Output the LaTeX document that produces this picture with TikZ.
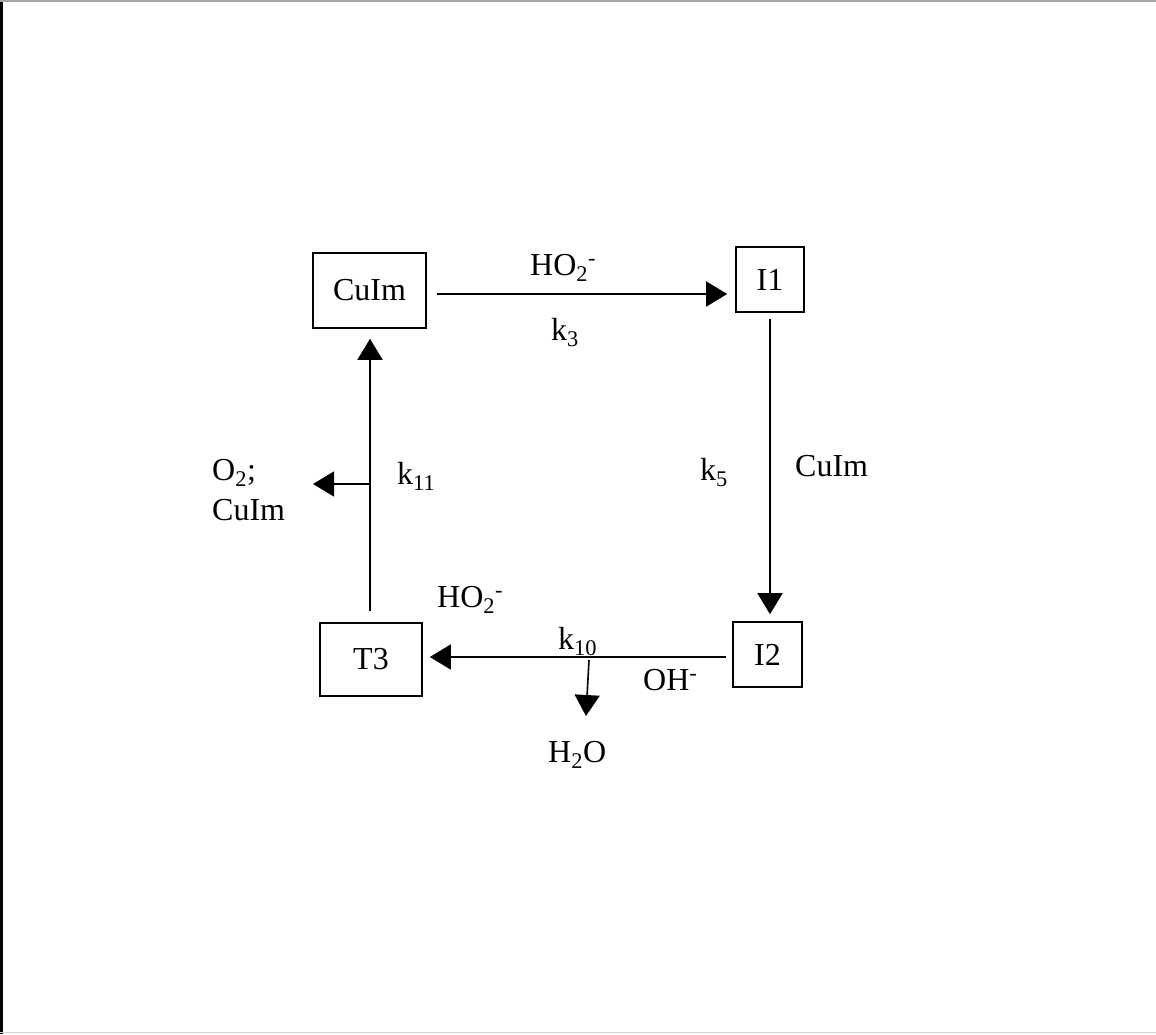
\documentclass[tikz,border=0pt]{standalone}
\usepackage{fontspec}
\setmainfont{Liberation Serif}
\usetikzlibrary{arrows.meta}
\begin{document}
\begin{tikzpicture}[x=1pt,y=-1pt,
  every node/.style={font=\fontsize{32}{40}\selectfont},
  species/.style={draw, line width=1.6pt, inner sep=0pt},
  lbl/.style={anchor=base west, inner sep=0pt},
  rxn/.style={line width=1.6pt, -{Triangle[length=21pt,width=25pt]}}]
\useasboundingbox (0,0) rectangle (1156,1034);
% page frame
\draw[line width=2.5pt] (1.5,0) -- (1.5,1034);
\draw[gray!70, line width=1.5pt] (0,0.8) -- (1156,0.8);
\draw[gray!35, line width=1.5pt] (0,1032.5) -- (1156,1032.5);
% species boxes
\node[species, minimum width=113pt, minimum height=75pt] (cuim) at (369.5,290.5) {CuIm};
\node[species, minimum width=68pt, minimum height=65pt] (i1) at (770,279.5) {I1};
\node[species, minimum width=102pt, minimum height=73pt] (t3) at (371,659.5) {T3};
\node[species, minimum width=69pt, minimum height=65pt] (i2) at (767.5,654.5) {I2};
% cycle connectors
\draw[rxn] ([shift={(10,3.5)}]cuim.east) -- ([shift={(-8,14.5)}]i1.west);
\draw[rxn] ([shift={(0,6)}]i1.south) -- ([shift={(0,-7)}]i2.north -| i1.south);
\draw[rxn] ([shift={(-6,2.5)}]i2.west) -- ([shift={(7,-2.5)}]t3.east);
\draw[rxn] ([shift={(-1,-11)}]t3.north) -- ([shift={(-1,10)}]t3.north |- cuim.south);
% side products
\coordinate (sideA) at (370,484);
\coordinate (sideB) at (313,484);
\draw[rxn] (sideA) -- (sideB);
\coordinate (waterA) at (589,660);
\coordinate (waterB) at (586,716);
\draw[rxn] (waterA) -- (waterB);
% labels
\node[lbl] (lho2a) at (530,275) {HO\textsubscript{2}\textsuperscript{-}};
\node[lbl] (lk3) at (551,340) {k\textsubscript{3}};
\node[lbl] (lk5) at (700,480) {k\textsubscript{5}};
\node[lbl] (lcuim2) at (795,476) {CuIm};
\node[lbl] (lho2b) at (437,607) {HO\textsubscript{2}\textsuperscript{-}};
\node[lbl] (lk10) at (558,649) {k\textsubscript{10}};
\node[lbl] (loh) at (643,690) {OH\textsuperscript{-}};
\node[lbl] (lh2o) at (548,762) {H\textsubscript{2}O};
\node[lbl] (lk11) at (397,484) {k\textsubscript{11}};
\node[lbl] (lo2) at (212,480) {O\textsubscript{2};};
\node[lbl] (lcuim3) at (212,520) {CuIm};
\end{tikzpicture}
\end{document}
